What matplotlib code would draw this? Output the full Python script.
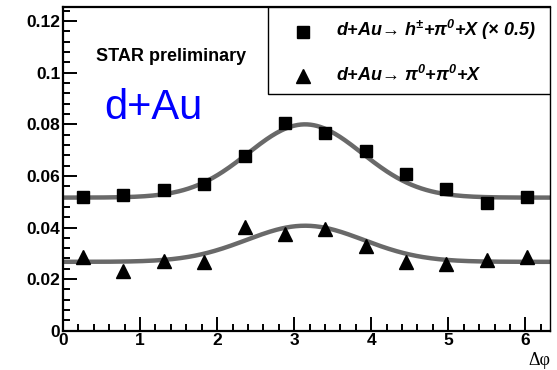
import numpy as np
from matplotlib import pyplot as plt
from matplotlib.ticker import MultipleLocator

# bin centres in delta phi (12 bins over 2 pi)
dphi = [0.262, 0.785, 1.309, 1.833, 2.356, 2.880, 3.403, 3.927, 4.451, 4.974, 5.498, 6.021]
# d+Au -> h+- + pi0 + X  (x 0.5)
hpi = [0.0517, 0.0525, 0.0544, 0.0567, 0.0679, 0.0806, 0.0766, 0.0695, 0.0606, 0.0551, 0.0494, 0.0518]
# d+Au -> pi0 + pi0 + X
pipi = [0.0284, 0.0232, 0.0271, 0.0268, 0.0402, 0.0373, 0.0396, 0.0330, 0.0267, 0.0258, 0.0276, 0.0284]

# gaussian fit parameters: baseline, amplitude, centre, width
fit_hpi = (0.0516, 0.0284, 3.14159, 0.74)
fit_pipi = (0.0267, 0.0140, 3.14159, 0.76)

plt.rcParams['font.family'] = ['Liberation Sans', 'DejaVu Sans']
plt.rcParams['mathtext.fontset'] = 'custom'
plt.rcParams['mathtext.rm'] = 'Liberation Sans:bold:italic'
plt.rcParams['mathtext.it'] = 'Liberation Sans:bold:italic'
plt.rcParams['mathtext.bf'] = 'Liberation Sans:bold:italic'

fig = plt.figure(figsize=(5.57, 3.70), dpi=100)
ax = fig.add_axes([0.1131, 0.1062, 0.8743, 0.8749])

xf = np.linspace(0.0, 6.32, 300)
for b, a, mu, s in (fit_hpi, fit_pipi):
	ax.plot(xf, b + a*np.exp(-(xf-mu)**2/(2*s*s)), color='#696969', linewidth=3.2, zorder=2)

ax.plot(dphi, hpi, 's', color='black', markersize=8.8, zorder=3)
ax.plot(dphi, pipi, '^', color='black', markersize=9.5, zorder=3)

ax.set_xlim(0, 6.32)
ax.set_ylim(0, 0.1255)
ax.xaxis.set_major_locator(MultipleLocator(1))
ax.xaxis.set_minor_locator(MultipleLocator(0.2))
ax.yaxis.set_major_locator(MultipleLocator(0.02))
ax.yaxis.set_minor_locator(MultipleLocator(0.004))
ax.set_yticks([0, 0.02, 0.04, 0.06, 0.08, 0.1, 0.12])
ax.set_yticklabels(['0', '0.02', '0.04', '0.06', '0.08', '0.1', '0.12'])
ax.tick_params(which='both', direction='in', top=False, right=False, width=1.4,
	labelsize=12.5, pad=2)
ax.tick_params(which='major', length=10)
ax.tick_params(which='minor', length=5)
for lab in ax.get_xticklabels() + ax.get_yticklabels():
	lab.set_fontweight('bold')
for side in ('left', 'bottom', 'top'):
	ax.spines[side].set_linewidth(1.6)
ax.spines['right'].set_linewidth(1.0)

def axy(py):
	# pixel row in the figure -> axes fraction
	return (330.7-py)/323.7

def axx(px):
	return (px-63)/487.0

ax.text(1.0, axy(365), 'Δφ', transform=ax.transAxes, ha='right', va='baseline',
	fontsize=13, family=['Liberation Serif', 'DejaVu Serif'])

ax.text(axx(96), axy(61), 'STAR preliminary', transform=ax.transAxes, fontsize=13,
	fontweight='bold', va='baseline', ha='left')
ax.text(axx(104), axy(119), 'd+Au', transform=ax.transAxes, fontsize=30, color='blue',
	va='baseline', ha='left')

# legend box
bx0 = axx(268)
by0 = axy(94)
ax.add_patch(plt.Rectangle((bx0, by0), 1.0-bx0, 1.0-by0, transform=ax.transAxes,
	facecolor='white', edgecolor='black', linewidth=1.0, zorder=4))
ax.plot([axx(303)], [axy(31.7)], 's', color='black', markersize=8.8,
	transform=ax.transAxes, zorder=5, clip_on=False)
ax.plot([axx(303)], [axy(76)], '^', color='black', markersize=9.5,
	transform=ax.transAxes, zorder=5, clip_on=False)
ax.text(axx(336), axy(36),
	r'd+Au→ h$^{\pm}$+π$^{0}$+X (× 0.5)',
	transform=ax.transAxes, fontsize=13, fontweight='bold', style='italic',
	va='baseline', ha='left', zorder=5)
ax.text(axx(336), axy(80.7),
	r'd+Au→ π$^{0}$+π$^{0}$+X',
	transform=ax.transAxes, fontsize=13, fontweight='bold', style='italic',
	va='baseline', ha='left', zorder=5)

fig.savefig('out.png', dpi=100)
